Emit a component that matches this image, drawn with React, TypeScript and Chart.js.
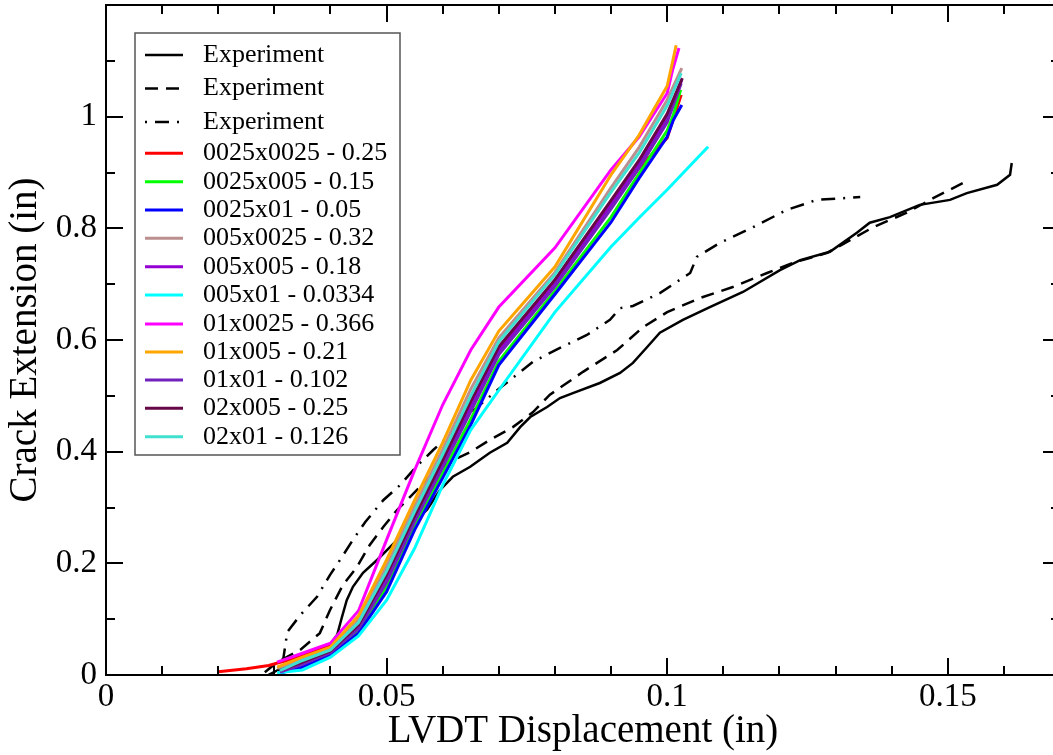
import React, { useEffect, useRef } from 'react';
import { Chart, registerables } from 'chart.js';

Chart.register(...registerables);

// ---------- Tick labels ----------
const xTickValues = [0, 0.05, 0.1, 0.15];
const yTickValues = [0, 0.2, 0.4, 0.6, 0.8, 1];

// ---------- Experiment (solid) ----------
const expSolidX = [0.0289, 0.0328, 0.0372, 0.0399, 0.0412, 0.0420, 0.0429, 0.0440, 0.0458, 0.0483, 0.0506, 0.0524, 0.0547, 0.0572, 0.0595, 0.0618, 0.0649, 0.0684, 0.0715, 0.0738, 0.0756, 0.0786, 0.0809, 0.0832, 0.0880, 0.0916, 0.0939, 0.0964, 0.0987, 0.1028, 0.1076, 0.1135, 0.1201, 0.1237, 0.1290, 0.1338, 0.1361, 0.1397, 0.1450, 0.1504, 0.1534, 0.1588, 0.1611, 0.1614];
const expSolidY = [0, 0.020, 0.036, 0.054, 0.072, 0.102, 0.134, 0.158, 0.183, 0.206, 0.229, 0.247, 0.272, 0.296, 0.331, 0.355, 0.373, 0.398, 0.416, 0.444, 0.462, 0.480, 0.496, 0.505, 0.523, 0.541, 0.559, 0.587, 0.613, 0.636, 0.659, 0.686, 0.725, 0.743, 0.758, 0.792, 0.810, 0.820, 0.842, 0.851, 0.863, 0.878, 0.896, 0.917];

// ---------- Experiment (dashed) ----------
const expDashX = [0.0283, 0.0305, 0.0346, 0.0381, 0.0399, 0.0422, 0.0447, 0.0470, 0.0494, 0.0519, 0.0542, 0.0577, 0.0613, 0.0649, 0.0684, 0.0725, 0.0761, 0.0791, 0.0850, 0.0911, 0.0957, 0.1000, 0.1058, 0.1117, 0.1178, 0.1224, 0.1285, 0.1326, 0.1367, 0.1427, 0.1474, 0.1527];
const expDashY = [0.005, 0.023, 0.045, 0.075, 0.116, 0.161, 0.193, 0.233, 0.265, 0.296, 0.319, 0.355, 0.382, 0.399, 0.421, 0.444, 0.471, 0.502, 0.543, 0.582, 0.623, 0.650, 0.675, 0.695, 0.720, 0.738, 0.756, 0.779, 0.802, 0.828, 0.854, 0.881];

// ---------- Experiment (dash-dot) ----------
const expDotX = [0.0312, 0.0317, 0.0323, 0.0346, 0.0376, 0.0399, 0.0417, 0.0440, 0.0462, 0.0494, 0.0524, 0.0551, 0.0583, 0.0613, 0.0649, 0.0697, 0.0761, 0.0809, 0.0857, 0.0898, 0.0916, 0.0939, 0.0987, 0.1041, 0.1053, 0.1094, 0.1153, 0.1213, 0.1267, 0.1344];
const expDotY = [0.005, 0.036, 0.077, 0.107, 0.140, 0.179, 0.206, 0.242, 0.274, 0.313, 0.340, 0.371, 0.403, 0.430, 0.469, 0.510, 0.561, 0.586, 0.609, 0.636, 0.657, 0.661, 0.684, 0.720, 0.749, 0.774, 0.802, 0.833, 0.851, 0.856];

// ---------- Simulations ----------
const s0025x0025X = [0.02, 0.025, 0.029, 0.035, 0.04, 0.045, 0.05, 0.055, 0.06, 0.065, 0.07, 0.08, 0.09, 0.095, 0.1, 0.1025];
const s0025x0025Y = [0.006, 0.011, 0.017, 0.034, 0.054, 0.099, 0.192, 0.296, 0.390, 0.478, 0.582, 0.704, 0.842, 0.908, 0.962, 1.039];

const s0025x005X = [0.031, 0.035, 0.04, 0.045, 0.05, 0.055, 0.06, 0.065, 0.07, 0.08, 0.09, 0.095, 0.1, 0.101, 0.1024];
const s0025x005Y = [0.004, 0.016, 0.038, 0.079, 0.158, 0.268, 0.362, 0.458, 0.562, 0.688, 0.820, 0.898, 0.975, 1.000, 1.048];

const s0025x01X = [0.031, 0.035, 0.04, 0.045, 0.05, 0.055, 0.06, 0.065, 0.07, 0.08, 0.09, 0.095, 0.1, 0.1011, 0.1026];
const s0025x01Y = [0.003, 0.014, 0.036, 0.075, 0.149, 0.260, 0.353, 0.448, 0.555, 0.682, 0.811, 0.890, 0.964, 0.994, 1.021];

const s005x0025X = [0.0305, 0.035, 0.04, 0.045, 0.05, 0.055, 0.06, 0.065, 0.07, 0.08, 0.09, 0.095, 0.1, 0.1026];
const s005x0025Y = [0.012, 0.029, 0.047, 0.100, 0.195, 0.302, 0.404, 0.512, 0.604, 0.721, 0.873, 0.945, 1.030, 1.087];

const s005x005X = [0.031, 0.035, 0.04, 0.045, 0.05, 0.055, 0.06, 0.065, 0.07, 0.08, 0.09, 0.095, 0.1, 0.1026];
const s005x005Y = [0.006, 0.021, 0.041, 0.086, 0.172, 0.280, 0.378, 0.480, 0.580, 0.701, 0.842, 0.915, 0.998, 1.066];

const s005x01X = [0.0305, 0.035, 0.04, 0.045, 0.05, 0.055, 0.06, 0.065, 0.07, 0.08, 0.09, 0.095, 0.1, 0.105, 0.1073];
const s005x01Y = [0.004, 0.009, 0.032, 0.070, 0.134, 0.227, 0.340, 0.439, 0.510, 0.650, 0.767, 0.819, 0.869, 0.922, 0.946];

const s01x0025X = [0.0305, 0.035, 0.04, 0.045, 0.05, 0.055, 0.06, 0.065, 0.07, 0.08, 0.09, 0.095, 0.1, 0.101, 0.1021];
const s01x0025Y = [0.023, 0.039, 0.057, 0.115, 0.242, 0.367, 0.484, 0.582, 0.659, 0.765, 0.905, 0.964, 1.042, 1.085, 1.123];

const s01x005X = [0.0305, 0.035, 0.04, 0.045, 0.05, 0.055, 0.06, 0.065, 0.07, 0.08, 0.09, 0.095, 0.1, 0.101, 0.1016];
const s01x005Y = [0.014, 0.032, 0.050, 0.106, 0.206, 0.313, 0.416, 0.528, 0.616, 0.731, 0.896, 0.967, 1.055, 1.100, 1.128];

const s01x01X = [0.031, 0.035, 0.04, 0.045, 0.05, 0.055, 0.06, 0.065, 0.07, 0.08, 0.09, 0.095, 0.1, 0.1025];
const s01x01Y = [0.005, 0.019, 0.040, 0.083, 0.166, 0.275, 0.372, 0.472, 0.574, 0.696, 0.835, 0.908, 0.990, 1.060];

const s02x005X = [0.031, 0.035, 0.04, 0.045, 0.05, 0.055, 0.06, 0.065, 0.07, 0.08, 0.09, 0.095, 0.1, 0.1027];
const s02x005Y = [0.008, 0.023, 0.043, 0.090, 0.180, 0.285, 0.385, 0.490, 0.588, 0.708, 0.850, 0.922, 1.005, 1.069];

const s02x01X = [0.031, 0.035, 0.04, 0.045, 0.05, 0.055, 0.06, 0.065, 0.07, 0.08, 0.09, 0.095, 0.1, 0.1025];
const s02x01Y = [0.008, 0.026, 0.045, 0.094, 0.186, 0.293, 0.395, 0.500, 0.597, 0.717, 0.865, 0.935, 1.020, 1.078];

const zip = (xs: number[], ys: number[]) => xs.map((x, i) => ({ x, y: ys[i] }));

type SeriesDef = { label: string; xs: number[]; ys: number[]; color: string; dash: number[]; width: number };

const series: SeriesDef[] = [
  { label: 'Experiment', xs: expSolidX, ys: expSolidY, color: '#000000', dash: [], width: 2.5 },
  { label: 'Experiment', xs: expDashX, ys: expDashY, color: '#000000', dash: [13, 8], width: 2.5 },
  { label: 'Experiment', xs: expDotX, ys: expDotY, color: '#000000', dash: [2, 8, 14, 8], width: 2.5 },
  { label: '0025x0025 - 0.25', xs: s0025x0025X, ys: s0025x0025Y, color: '#ff0000', dash: [], width: 3 },
  { label: '0025x005 - 0.15', xs: s0025x005X, ys: s0025x005Y, color: '#00ff00', dash: [], width: 3 },
  { label: '0025x01 - 0.05', xs: s0025x01X, ys: s0025x01Y, color: '#0000ff', dash: [], width: 3 },
  { label: '005x0025 - 0.32', xs: s005x0025X, ys: s005x0025Y, color: '#bc8f8f', dash: [], width: 3 },
  { label: '005x005 - 0.18', xs: s005x005X, ys: s005x005Y, color: '#9400d3', dash: [], width: 3 },
  { label: '005x01 - 0.0334', xs: s005x01X, ys: s005x01Y, color: '#00ffff', dash: [], width: 3 },
  { label: '01x0025 - 0.366', xs: s01x0025X, ys: s01x0025Y, color: '#ff00ff', dash: [], width: 3 },
  { label: '01x005 - 0.21', xs: s01x005X, ys: s01x005Y, color: '#ffa500', dash: [], width: 3 },
  { label: '01x01 - 0.102', xs: s01x01X, ys: s01x01Y, color: '#7221bc', dash: [], width: 3 },
  { label: '02x005 - 0.25', xs: s02x005X, ys: s02x005Y, color: '#670748', dash: [], width: 3 },
  { label: '02x01 - 0.126', xs: s02x01X, ys: s02x01Y, color: '#40e0d0', dash: [], width: 3 },
];

const FONT = '"Liberation Serif", "DejaVu Serif", serif';

const fmt = (v: number) => String(Number(Number(v).toFixed(4)));

const framePlugin = {
  id: 'framePlugin',
  afterDraw(chart: any) {
    const { ctx, chartArea: a, scales } = chart;
    const xs = scales.x;
    const ys = scales.y;
    ctx.save();
    ctx.strokeStyle = '#000';
    ctx.lineWidth = 2;
    ctx.setLineDash([]);
    ctx.strokeRect(a.left, a.top, a.right - a.left, a.bottom - a.top);
    const seg = (x1: number, y1: number, x2: number, y2: number) => {
      ctx.beginPath();
      ctx.moveTo(x1, y1);
      ctx.lineTo(x2, y2);
      ctx.stroke();
    };
    for (let i = 0; i <= 17; i++) {
      const px = Math.round(xs.getPixelForValue(i * 0.01));
      const len = i % 5 === 0 ? 17 : 9;
      seg(px, a.bottom, px, a.bottom - len);
      seg(px, a.top, px, a.top + len);
    }
    for (let i = 0; i <= 12; i++) {
      const py = Math.round(ys.getPixelForValue(i * 0.1));
      const len = i % 2 === 0 ? 17 : 9;
      seg(a.left, py, a.left + len, py);
      seg(a.right, py, a.right - len, py);
    }

    // Legend
    const bx = 135, by = 33, bw = 265, bh = 422;
    ctx.fillStyle = '#fff';
    ctx.fillRect(bx, by, bw, bh);
    ctx.strokeStyle = '#555';
    ctx.lineWidth = 1.5;
    ctx.strokeRect(bx, by, bw, bh);
    const rowY = [55, 88.5, 122, 153.3, 181.7, 210, 238.3, 266.7, 295, 324, 352, 380, 408.3, 436.7];
    ctx.font = `26px ${FONT}`;
    ctx.textBaseline = 'middle';
    ctx.textAlign = 'left';
    chart.data.datasets.forEach((ds: any, i: number) => {
      const y = rowY[i];
      ctx.strokeStyle = ds.borderColor;
      ctx.lineWidth = ds.borderWidth;
      ctx.setLineDash(ds.borderDash || []);
      seg(145, y, 183, y);
      ctx.setLineDash([]);
      ctx.fillStyle = '#000';
      ctx.fillText(ds.label, 203, y);
    });
    ctx.restore();
  },
};

export default function App() {
  const ref = useRef<HTMLCanvasElement | null>(null);
  useEffect(() => {
    if (!ref.current) return;
    const n = series.length;
    const chart = new Chart(ref.current, {
      type: 'line',
      data: {
        datasets: series.map((s, i) => ({
          label: s.label,
          data: zip(s.xs, s.ys),
          borderColor: s.color,
          backgroundColor: s.color,
          borderWidth: s.width,
          borderDash: s.dash,
          pointRadius: 0,
          tension: 0,
          fill: false,
          order: n - i,
        })),
      },
      options: {
        responsive: false,
        animation: false,
        devicePixelRatio: 1,
        layout: { padding: { left: 0, top: 5, right: 15, bottom: 0 } },
        plugins: { legend: { display: false }, tooltip: { enabled: false } },
        scales: {
          x: {
            type: 'linear',
            position: 'bottom',
            min: 0,
            max: 0.17,
            grid: { display: false, drawTicks: false },
            border: { display: false },
            ticks: {
              color: '#000',
              font: { family: FONT, size: 33 },
              padding: 3,
              maxRotation: 0,
              autoSkip: false,
              callback: (v: any) => fmt(v),
            },
            afterBuildTicks: (s: any) => {
              s.ticks = xTickValues.map((v) => ({ value: v }));
            },
            afterFit: (s: any) => {
              s.height = 80;
              s.paddingLeft = 0;
              s.paddingRight = 0;
              s.paddingTop = 0;
              s.paddingBottom = 0;
            },
            title: {
              display: true,
              text: 'LVDT Displacement (in)',
              color: '#000',
              font: { family: FONT, size: 39 },
              padding: { top: 0, bottom: 0 },
            },
          },
          y: {
            type: 'linear',
            position: 'left',
            min: 0,
            max: 1.2,
            grid: { display: false, drawTicks: false },
            border: { display: false },
            ticks: {
              color: '#000',
              font: { family: FONT, size: 33 },
              padding: 9,
              autoSkip: false,
              callback: (v: any) => fmt(v),
            },
            afterBuildTicks: (s: any) => {
              s.ticks = yTickValues.map((v) => ({ value: v }));
            },
            afterFit: (s: any) => {
              s.width = 106;
              s.paddingLeft = 0;
              s.paddingRight = 0;
              s.paddingTop = 0;
              s.paddingBottom = 0;
            },
            title: {
              display: true,
              text: 'Crack Extension (in)',
              color: '#000',
              font: { family: FONT, size: 39 },
              padding: { top: 2, bottom: 0 },
            },
          },
        },
      },
      plugins: [framePlugin],
    } as any);
    return () => chart.destroy();
  }, []);

  return (
    <div style={{ position: 'absolute', left: 0, top: 0, width: 1053, height: 755, overflow: 'hidden', background: '#fff' }}>
      <canvas ref={ref} width={1075} height={755} style={{ display: 'block', width: 1075, height: 755 }} />
    </div>
  );
}
